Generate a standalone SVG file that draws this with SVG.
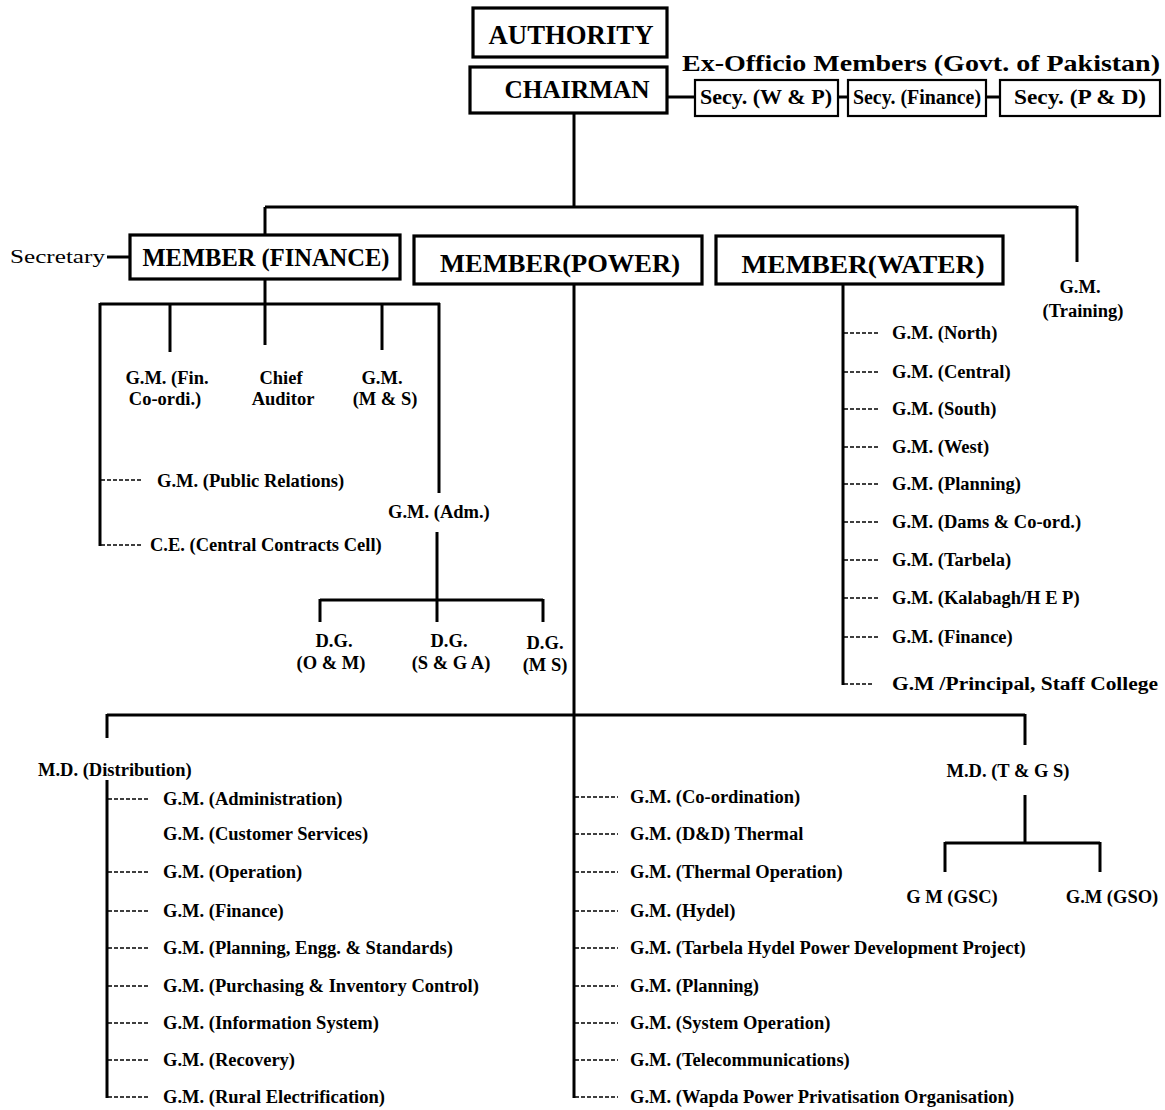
<svg xmlns="http://www.w3.org/2000/svg" width="1165" height="1110" viewBox="0 0 1165 1110">
<style>
.ln{stroke:#000;stroke-width:3;fill:none}
.dl{stroke:#000;stroke-width:1.5;stroke-dasharray:4 2;fill:none}
.box{fill:#fff;stroke:#000;stroke-width:3.2}
.sbox{fill:#fff;stroke:#000;stroke-width:2.2}
.t{font-family:"Liberation Serif","Times New Roman",serif;font-weight:bold;font-size:18.5px;fill:#000}
.c{text-anchor:middle}
.auth{font-size:28px}
.chair{font-size:25px}
.exo{font-size:24px}
.mem{font-size:26px}
.sec{font-size:20px}
.secr{font-size:19px;font-weight:normal}
</style>
<rect width="1165" height="1110" fill="#fff"/>
<g id="connectors">
  <line class="ln" x1="667" y1="97" x2="695" y2="97"/>
  <line class="ln" x1="838" y1="97" x2="848" y2="97"/>
  <line class="ln" x1="986" y1="97" x2="1000" y2="97"/>
  <line class="ln" x1="574" y1="113" x2="574" y2="207"/>
  <line class="ln" x1="265" y1="207" x2="1077" y2="207"/>
  <line class="ln" x1="265" y1="207" x2="265" y2="236"/>
  <line class="ln" x1="1077" y1="206" x2="1077" y2="262"/>
  <line class="ln" x1="107" y1="257" x2="130" y2="257"/>
  <line class="ln" x1="265" y1="279" x2="265" y2="345"/>
  <line class="ln" x1="100" y1="304" x2="440" y2="304"/>
  <line class="ln" x1="170" y1="304" x2="170" y2="352"/>
  <line class="ln" x1="382" y1="304" x2="382" y2="350"/>
  <line class="ln" x1="439" y1="303" x2="439" y2="493"/>
  <line class="ln" x1="100" y1="303" x2="100" y2="546"/>
  <line class="dl" x1="101" y1="480" x2="142" y2="480"/>
  <line class="dl" x1="101" y1="545" x2="142" y2="545"/>
  <line class="ln" x1="437" y1="532" x2="437" y2="622"/>
  <line class="ln" x1="320" y1="600" x2="543" y2="600"/>
  <line class="ln" x1="320" y1="599" x2="320" y2="622"/>
  <line class="ln" x1="543" y1="599" x2="543" y2="622"/>
  <line class="ln" x1="843" y1="284" x2="843" y2="685"/>
  <line class="dl" x1="844" y1="333" x2="880" y2="333"/>
  <line class="dl" x1="844" y1="372" x2="880" y2="372"/>
  <line class="dl" x1="844" y1="409" x2="880" y2="409"/>
  <line class="dl" x1="844" y1="447" x2="880" y2="447"/>
  <line class="dl" x1="844" y1="484" x2="880" y2="484"/>
  <line class="dl" x1="844" y1="522" x2="880" y2="522"/>
  <line class="dl" x1="844" y1="560" x2="880" y2="560"/>
  <line class="dl" x1="844" y1="598" x2="880" y2="598"/>
  <line class="dl" x1="844" y1="637" x2="880" y2="637"/>
  <line class="dl" x1="844" y1="684" x2="872" y2="684"/>
  <line class="ln" x1="574" y1="284" x2="574" y2="1098"/>
  <line class="ln" x1="107" y1="715" x2="1025" y2="715"/>
  <line class="ln" x1="107" y1="714" x2="107" y2="738"/>
  <line class="ln" x1="107" y1="780" x2="107" y2="1098"/>
  <line class="dl" x1="108" y1="799" x2="150" y2="799"/>
  <line class="dl" x1="108" y1="872" x2="150" y2="872"/>
  <line class="dl" x1="108" y1="911" x2="150" y2="911"/>
  <line class="dl" x1="108" y1="948" x2="150" y2="948"/>
  <line class="dl" x1="108" y1="986" x2="150" y2="986"/>
  <line class="dl" x1="108" y1="1023" x2="150" y2="1023"/>
  <line class="dl" x1="108" y1="1060" x2="150" y2="1060"/>
  <line class="dl" x1="108" y1="1097" x2="150" y2="1097"/>
  <line class="dl" x1="575" y1="797" x2="618" y2="797"/>
  <line class="dl" x1="575" y1="834" x2="618" y2="834"/>
  <line class="dl" x1="575" y1="872" x2="618" y2="872"/>
  <line class="dl" x1="575" y1="911" x2="618" y2="911"/>
  <line class="dl" x1="575" y1="948" x2="618" y2="948"/>
  <line class="dl" x1="575" y1="986" x2="618" y2="986"/>
  <line class="dl" x1="575" y1="1023" x2="618" y2="1023"/>
  <line class="dl" x1="575" y1="1060" x2="618" y2="1060"/>
  <line class="dl" x1="575" y1="1097" x2="618" y2="1097"/>
  <line class="ln" x1="1025" y1="714" x2="1025" y2="745"/>
  <line class="ln" x1="1025" y1="795" x2="1025" y2="843"/>
  <line class="ln" x1="945" y1="843" x2="1100" y2="843"/>
  <line class="ln" x1="945" y1="842" x2="945" y2="872"/>
  <line class="ln" x1="1100" y1="842" x2="1100" y2="872"/>
</g>
<g id="authority"><rect class="box" x="473" y="8" width="194" height="49"/><text class="t c auth" x="571" y="44" textLength="165" lengthAdjust="spacingAndGlyphs">AUTHORITY</text></g>
<g id="chairman"><rect class="box" x="470" y="67" width="197" height="46"/><text class="t c chair" x="577" y="98" textLength="145" lengthAdjust="spacingAndGlyphs">CHAIRMAN</text></g>
<g id="exofficio"><text class="t exo" x="682" y="71" textLength="478" lengthAdjust="spacingAndGlyphs">Ex-Officio Members (Govt. of Pakistan)</text></g>
<g id="secy-wp"><rect class="sbox" x="695" y="80" width="143" height="36"/><text class="t c sec" x="766" y="104" textLength="132" lengthAdjust="spacingAndGlyphs">Secy. (W &amp; P)</text></g>
<g id="secy-fin"><rect class="sbox" x="848" y="80" width="138" height="36"/><text class="t c sec" x="917" y="104" textLength="128" lengthAdjust="spacingAndGlyphs">Secy. (Finance)</text></g>
<g id="secy-pd"><rect class="sbox" x="1000" y="80" width="160" height="36"/><text class="t c sec" x="1080" y="104" textLength="132" lengthAdjust="spacingAndGlyphs">Secy. (P &amp; D)</text></g>
<g id="secretary"><text class="t secr" x="10" y="263" textLength="95" lengthAdjust="spacingAndGlyphs">Secretary</text></g>
<g id="member-finance"><rect class="box" x="130" y="235" width="270" height="44"/><text class="t c mem" x="266" y="266" textLength="247" lengthAdjust="spacingAndGlyphs">MEMBER (FINANCE)</text></g>
<g id="member-power"><rect class="box" x="414" y="236" width="288" height="48"/><text class="t c mem" x="560" y="272" textLength="240" lengthAdjust="spacingAndGlyphs">MEMBER(POWER)</text></g>
<g id="member-water"><rect class="box" x="716" y="236" width="287" height="48"/><text class="t c mem" x="863" y="273" textLength="243" lengthAdjust="spacingAndGlyphs">MEMBER(WATER)</text></g>
<g id="gm-training"><text class="t c" x="1080" y="293">G.M.</text><text class="t c" x="1083" y="317">(Training)</text></g>
<g id="gm-fin-coordi"><text class="t c" x="167" y="384">G.M. (Fin.</text><text class="t c" x="165" y="405">Co-ordi.)</text></g>
<g id="chief-auditor"><text class="t c" x="281" y="384">Chief</text><text class="t c" x="283" y="405">Auditor</text></g>
<g id="gm-ms"><text class="t c" x="382" y="384">G.M.</text><text class="t c" x="385" y="405">(M &amp; S)</text></g>
<g id="gm-pr"><text class="t" x="157" y="487">G.M. (Public Relations)</text></g>
<g id="gm-adm"><text class="t" x="388" y="518">G.M. (Adm.)</text></g>
<g id="ce-ccc"><text class="t" x="150" y="551">C.E. (Central Contracts Cell)</text></g>
<g id="dg-om"><text class="t c" x="334" y="647">D.G.</text><text class="t c" x="331" y="669">(O &amp; M)</text></g>
<g id="dg-sga"><text class="t c" x="449" y="647">D.G.</text><text class="t c" x="451" y="669">(S &amp; G A)</text></g>
<g id="dg-ms"><text class="t c" x="545" y="649">D.G.</text><text class="t c" x="545" y="671">(M S)</text></g>
<g id="water-gms">
  <text class="t" x="892" y="339">G.M. (North)</text>
  <text class="t" x="892" y="378">G.M. (Central)</text>
  <text class="t" x="892" y="415">G.M. (South)</text>
  <text class="t" x="892" y="453">G.M. (West)</text>
  <text class="t" x="892" y="490">G.M. (Planning)</text>
  <text class="t" x="892" y="528">G.M. (Dams &amp; Co-ord.)</text>
  <text class="t" x="892" y="566">G.M. (Tarbela)</text>
  <text class="t" x="892" y="604">G.M. (Kalabagh/H E P)</text>
  <text class="t" x="892" y="643">G.M. (Finance)</text>
  <text class="t" x="892" y="690" textLength="266" lengthAdjust="spacingAndGlyphs">G.M /Principal, Staff College</text>
</g>
<g id="md-distribution"><text class="t" x="38" y="776">M.D. (Distribution)</text></g>
<g id="dist-gms">
  <text class="t" x="163" y="805">G.M. (Administration)</text>
  <text class="t" x="163" y="840">G.M. (Customer Services)</text>
  <text class="t" x="163" y="878">G.M. (Operation)</text>
  <text class="t" x="163" y="917">G.M. (Finance)</text>
  <text class="t" x="163" y="954">G.M. (Planning, Engg. &amp; Standards)</text>
  <text class="t" x="163" y="992">G.M. (Purchasing &amp; Inventory Control)</text>
  <text class="t" x="163" y="1029">G.M. (Information System)</text>
  <text class="t" x="163" y="1066">G.M. (Recovery)</text>
  <text class="t" x="163" y="1103">G.M. (Rural Electrification)</text>
</g>
<g id="power-gms">
  <text class="t" x="630" y="803">G.M. (Co-ordination)</text>
  <text class="t" x="630" y="840">G.M. (D&amp;D) Thermal</text>
  <text class="t" x="630" y="878">G.M. (Thermal Operation)</text>
  <text class="t" x="630" y="917">G.M. (Hydel)</text>
  <text class="t" x="630" y="954">G.M. (Tarbela Hydel Power Development Project)</text>
  <text class="t" x="630" y="992">G.M. (Planning)</text>
  <text class="t" x="630" y="1029">G.M. (System Operation)</text>
  <text class="t" x="630" y="1066">G.M. (Telecommunications)</text>
  <text class="t" x="630" y="1103">G.M. (Wapda Power Privatisation Organisation)</text>
</g>
<g id="md-tgs"><text class="t c" x="1008" y="777">M.D. (T &amp; G S)</text></g>
<g id="gm-gsc"><text class="t c" x="952" y="903">G M (GSC)</text></g>
<g id="gm-gso"><text class="t c" x="1112" y="903">G.M (GSO)</text></g>
</svg>
